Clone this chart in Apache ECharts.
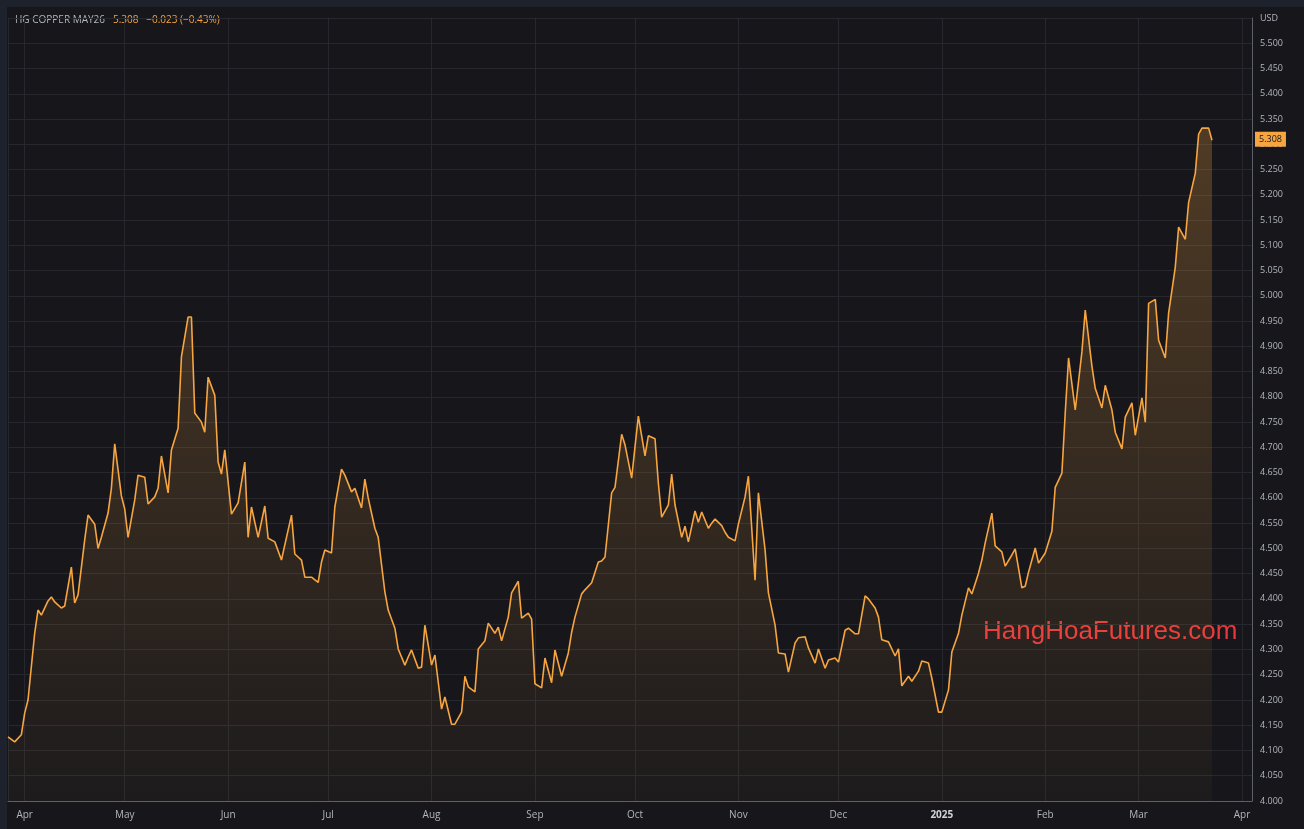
<!DOCTYPE html>
<html>
<head>
<meta charset="utf-8">
<script src="https://cdn.jsdelivr.net/npm/echarts@6/dist/echarts.min.js"></script>
<style>
  html, body { margin:0; padding:0; background:#131722; }
  #chart { width:1304px; height:829px; }
</style>
</head>
<body>
<div id="chart"></div>
<script>
// HG copper, daily closes
var dates = [
  '2024-03-27','2024-03-29','2024-03-31',
  '2024-04-01','2024-04-02','2024-04-04','2024-04-05','2024-04-06','2024-04-08','2024-04-09','2024-04-10','2024-04-12','2024-04-13','2024-04-15','2024-04-16','2024-04-17','2024-04-19','2024-04-20','2024-04-22','2024-04-23','2024-04-24','2024-04-26','2024-04-27','2024-04-28','2024-04-30',
  '2024-05-01','2024-05-02','2024-05-04','2024-05-05','2024-05-07','2024-05-08','2024-05-10','2024-05-11','2024-05-12','2024-05-14','2024-05-15','2024-05-17','2024-05-18','2024-05-20','2024-05-21','2024-05-22','2024-05-24','2024-05-25','2024-05-26','2024-05-28','2024-05-29','2024-05-30','2024-05-31',
  '2024-06-02','2024-06-04','2024-06-06','2024-06-07','2024-06-08','2024-06-10','2024-06-12','2024-06-13','2024-06-15','2024-06-17','2024-06-18','2024-06-20','2024-06-21','2024-06-23','2024-06-24','2024-06-26','2024-06-28','2024-06-29','2024-06-30',
  '2024-07-02','2024-07-03','2024-07-05','2024-07-06','2024-07-08','2024-07-09','2024-07-11','2024-07-12','2024-07-13','2024-07-15','2024-07-16','2024-07-18','2024-07-19','2024-07-21','2024-07-22','2024-07-24','2024-07-25','2024-07-26','2024-07-28','2024-07-29','2024-07-30',
  '2024-08-01','2024-08-02','2024-08-04','2024-08-05','2024-08-07','2024-08-08','2024-08-10','2024-08-11','2024-08-12','2024-08-14','2024-08-15','2024-08-17','2024-08-18','2024-08-20','2024-08-21','2024-08-22','2024-08-24','2024-08-25','2024-08-27','2024-08-28','2024-08-30','2024-08-31',
  '2024-09-01','2024-09-03','2024-09-04','2024-09-06','2024-09-07','2024-09-09','2024-09-11','2024-09-12','2024-09-13','2024-09-15','2024-09-16','2024-09-18','2024-09-20','2024-09-21','2024-09-22','2024-09-24','2024-09-25','2024-09-27','2024-09-28','2024-09-30',
  '2024-10-01','2024-10-02','2024-10-04','2024-10-05','2024-10-07','2024-10-08','2024-10-09','2024-10-11','2024-10-12','2024-10-13','2024-10-15','2024-10-16','2024-10-17','2024-10-19','2024-10-20','2024-10-21','2024-10-23','2024-10-24','2024-10-25','2024-10-27','2024-10-28','2024-10-29','2024-10-31',
  '2024-11-01','2024-11-03','2024-11-04','2024-11-06','2024-11-07','2024-11-09','2024-11-10','2024-11-12','2024-11-13','2024-11-15','2024-11-16','2024-11-18','2024-11-19','2024-11-21','2024-11-22','2024-11-24','2024-11-25','2024-11-27','2024-11-28','2024-11-30',
  '2024-12-01','2024-12-03','2024-12-04','2024-12-06','2024-12-07','2024-12-09','2024-12-10','2024-12-12','2024-12-13','2024-12-14','2024-12-16','2024-12-18','2024-12-19','2024-12-20','2024-12-22','2024-12-23','2024-12-25','2024-12-26','2024-12-28','2024-12-29','2024-12-31',
  '2025-01-01','2025-01-03','2025-01-04','2025-01-06','2025-01-07','2025-01-09','2025-01-10','2025-01-12','2025-01-13','2025-01-14','2025-01-16','2025-01-17','2025-01-19','2025-01-20','2025-01-22','2025-01-23','2025-01-25','2025-01-26','2025-01-27','2025-01-29','2025-01-30',
  '2025-02-01','2025-02-03','2025-02-04','2025-02-06','2025-02-07','2025-02-08','2025-02-10','2025-02-12','2025-02-13','2025-02-15','2025-02-16','2025-02-18','2025-02-19','2025-02-21','2025-02-22','2025-02-24','2025-02-25','2025-02-27','2025-02-28',
  '2025-03-02','2025-03-03','2025-03-04','2025-03-06','2025-03-07','2025-03-09','2025-03-10','2025-03-12','2025-03-13','2025-03-15','2025-03-16','2025-03-18','2025-03-19','2025-03-20','2025-03-22','2025-03-23'
];
var prices = [
  4.127,4.117,4.131,
  4.174,4.200,4.332,4.378,4.368,4.396,4.404,4.394,4.382,4.386,4.463,4.392,4.408,4.517,4.566,4.548,4.500,4.522,4.570,4.619,4.707,4.604,
  4.578,4.522,4.596,4.645,4.641,4.588,4.602,4.619,4.683,4.610,4.695,4.738,4.879,4.958,4.958,4.768,4.750,4.730,4.839,4.803,4.671,4.647,4.695,
  4.568,4.590,4.671,4.522,4.582,4.522,4.584,4.520,4.513,4.477,4.507,4.566,4.489,4.477,4.443,4.443,4.433,4.473,4.497,
  4.491,4.582,4.657,4.645,4.612,4.619,4.580,4.637,4.600,4.540,4.522,4.414,4.378,4.342,4.301,4.269,4.285,4.299,4.263,4.265,4.348,
  4.269,4.289,4.182,4.206,4.152,4.152,4.176,4.247,4.226,4.216,4.301,4.317,4.352,4.332,4.344,4.317,4.364,4.412,4.435,4.362,4.372,4.360,
  4.232,4.224,4.283,4.234,4.299,4.247,4.293,4.334,4.364,4.410,4.418,4.432,4.473,4.475,4.483,4.610,4.621,4.726,4.705,4.639,
  4.701,4.762,4.683,4.723,4.717,4.629,4.562,4.586,4.647,4.586,4.522,4.544,4.513,4.574,4.552,4.572,4.540,4.550,4.558,4.545,4.532,4.522,4.515,
  4.548,4.602,4.643,4.437,4.610,4.497,4.412,4.348,4.293,4.291,4.255,4.313,4.323,4.325,4.303,4.273,4.301,4.263,4.279,4.283,
  4.275,4.338,4.342,4.331,4.331,4.406,4.400,4.382,4.364,4.319,4.315,4.287,4.301,4.228,4.247,4.237,4.257,4.277,4.273,4.243,4.176,
  4.176,4.220,4.295,4.332,4.368,4.422,4.410,4.451,4.477,4.511,4.570,4.505,4.493,4.465,4.487,4.499,4.422,4.425,4.453,4.501,4.471,
  4.491,4.534,4.621,4.649,4.768,4.877,4.774,4.889,4.972,4.861,4.817,4.778,4.823,4.774,4.730,4.697,4.760,4.788,4.724,
  4.798,4.750,4.985,4.993,4.912,4.877,4.966,5.057,5.136,5.112,5.185,5.243,5.320,5.332,5.332,5.308
];
var lastPrice = 5.308;
var monthNames = ['Jan','Feb','Mar','Apr','May','Jun','Jul','Aug','Sep','Oct','Nov','Dec'];

var seriesData = dates.map(function (d, i) { return [d, prices[i]]; });
var orange = '#f7a541';

var option = {
  backgroundColor: '#17171b',
  animation: false,
  textStyle: { fontFamily: 'Open Sans' },
  grid: { left: 8, right: 52, top: 18, bottom: 28 },
  graphic: [
    { type: 'rect', left: 0, top: 0, shape: { width: 1304, height: 7 }, style: { fill: '#1e222d' } },
    { type: 'rect', left: 0, top: 0, shape: { width: 7, height: 829 }, style: { fill: '#1e222d' } },
    { type: 'text', left: 15, top: 15, style: { text: 'HG COPPER MAY26', fill: '#b2b5be', font: '10px "Open Sans"' } },
    { type: 'text', left: 113, top: 15, style: { text: '5.308   \u22120.023 (\u22120.43%)', fill: orange, font: '10px "Open Sans"' } },
    { type: 'text', left: 983, top: 619, style: { text: 'HangHoaFutures.com', fill: '#e8383d', font: '26px Arial' } }
  ],
  xAxis: {
    type: 'time',
    min: '2024-03-27',
    max: '2025-04-04',
    minInterval: 28 * 86400000,
    maxInterval: 31 * 86400000,
    axisLine: { show: true, lineStyle: { color: '#5d606b', width: 1 } },
    axisTick: { show: false },
    splitLine: { show: true, lineStyle: { color: '#26282e' } },
    axisLabel: {
      color: '#b2b5be', fontSize: 10, margin: 9,
      formatter: function (val) {
        var d = new Date(val);
        if (d.getMonth() === 0) return '{b|' + d.getFullYear() + '}';
        return monthNames[d.getMonth()];
      },
      rich: { b: { fontWeight: 'bold', color: '#d1d4dc', fontSize: 10 } }
    }
  },
  yAxis: {
    type: 'value',
    position: 'right',
    min: 4.0,
    max: 5.55,
    interval: 0.05,
    axisLine: { show: true, lineStyle: { color: '#5d606b' } },
    axisTick: { show: false },
    splitLine: { lineStyle: { color: '#26282e' } },
    axisLabel: {
      color: '#b2b5be', fontSize: 9, margin: 8,
      formatter: function (v) {
        if (v > 5.52) return 'USD';
        return v.toFixed(3);
      }
    }
  },
  series: [{
    type: 'line',
    data: seriesData,
    symbol: 'none',
    lineStyle: { color: orange, width: 1.6 },
    areaStyle: {
      color: new echarts.graphic.LinearGradient(0, 0, 0, 1, [
        { offset: 0, color: 'rgba(247,165,65,0.36)' },
        { offset: 1, color: 'rgba(247,165,65,0.04)' }
      ])
    },
    markLine: {
      silent: true,
      symbol: 'none',
      lineStyle: { color: 'rgba(0,0,0,0)', type: 'solid' },
      label: {
        show: true,
        position: 'end', distance: 3,
        formatter: lastPrice.toFixed(3),
        backgroundColor: orange, color: '#131722',
        fontSize: 9, padding: [3, 4]
      },
      data: [{ yAxis: lastPrice }]
    }
  }]
};
echarts.init(document.getElementById('chart')).setOption(option);
</script>
</body>
</html>
